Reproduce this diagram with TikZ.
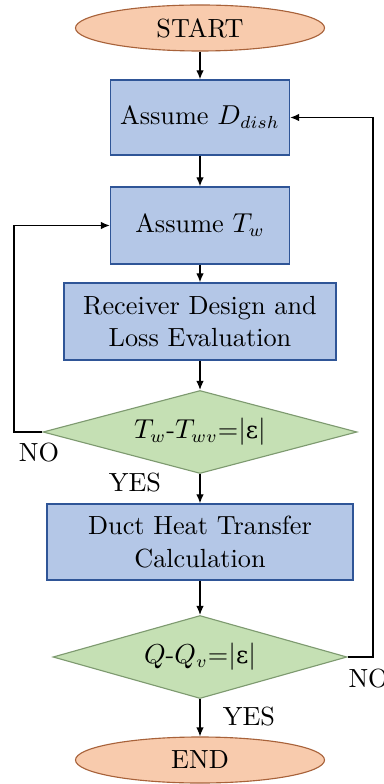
\documentclass[tikz,border=0pt]{standalone}
\usepackage{fontspec}
\newfontfamily\grk{DejaVu Serif}
\usetikzlibrary{shapes.geometric,arrows.meta}
\definecolor{ovfill}{HTML}{F8CBAD}
\definecolor{ovdraw}{HTML}{A8623A}
\definecolor{bxfill}{HTML}{B4C7E7}
\definecolor{bxdraw}{HTML}{2F5597}
\definecolor{dmfill}{HTML}{C5E0B4}
\definecolor{dmdraw}{HTML}{7E9A70}
\newcommand{\eps}{{\grk\fontsize{9.5}{12}\selectfont ε}}
\begin{document}
\begin{tikzpicture}[x=0.4pt,y=-0.4pt,
  every node/.style={font=\fontsize{10.5}{13}\selectfont},
  oval/.style={ellipse,draw=ovdraw,fill=ovfill,line width=0.45pt,inner sep=0pt,minimum width=99.6pt,minimum height=18.4pt},
  procbox/.style={rectangle,draw=bxdraw,fill=bxfill,line width=0.55pt,inner sep=0pt,align=center},
  decide/.style={diamond,draw=dmdraw,fill=dmfill,line width=0.45pt,inner sep=0pt,shape aspect=3.8,minimum height=33.2pt},
  flow/.style={-{Latex[length=3.6pt,width=3pt]},line width=0.5pt},
  lbl/.style={inner sep=0pt}]
\useasboundingbox (0,0) rectangle (384,784);
\node[oval] (start) at (200,28) {START};
\node[procbox,minimum width=71.6pt,minimum height=30pt] (dd) at (200,117.5) {Assume $D_{dish}$};
\node[procbox,minimum width=71.6pt,minimum height=30.8pt] (tw) at (200,225.5) {Assume $T_w$};
\node[procbox,minimum width=108.8pt,minimum height=30.8pt] (rec) at (200,321.5) {Receiver Design and\\Loss Evaluation};
\node[decide,minimum width=125.6pt] (d1) at (200,432) {$T_w$-$T_{wv}$=$|$\eps$|$};
\node[procbox,minimum width=122.4pt,minimum height=30.4pt] (duct) at (200,542) {Duct Heat Transfer\\Calculation};
\node[decide,minimum width=117.6pt] (d2) at (200,657) {$Q$-$Q_v$=$|$\eps$|$};
\node[oval] (end) at (200,760) {END};
\coordinate (l1) at (14,432);
\coordinate (l2) at (14,225.5);
\coordinate (r1) at (373,657);
\coordinate (r2) at (373,117.5);
\draw[flow] (start) -- (dd);
\draw[flow] (dd) -- (tw);
\draw[flow] (tw) -- (rec);
\draw[flow] (rec) -- (d1);
\draw[flow] (d1) -- (duct);
\draw[flow] (duct) -- (d2);
\draw[flow] (d2) -- (end);
\draw[flow] (d1.west) -- (l1) -- (l2) -- (tw.west);
\draw[flow] (d2.east) -- (r1) -- (r2) -- (dd.east);
\node[lbl] (no1) at (39,453) {NO};
\node[lbl] (yes1) at (135,483) {YES};
\node[lbl,anchor=west] (no2) at (348,679) {NO};
\node[lbl] (yes2) at (249,717) {YES};
\end{tikzpicture}
\end{document}
